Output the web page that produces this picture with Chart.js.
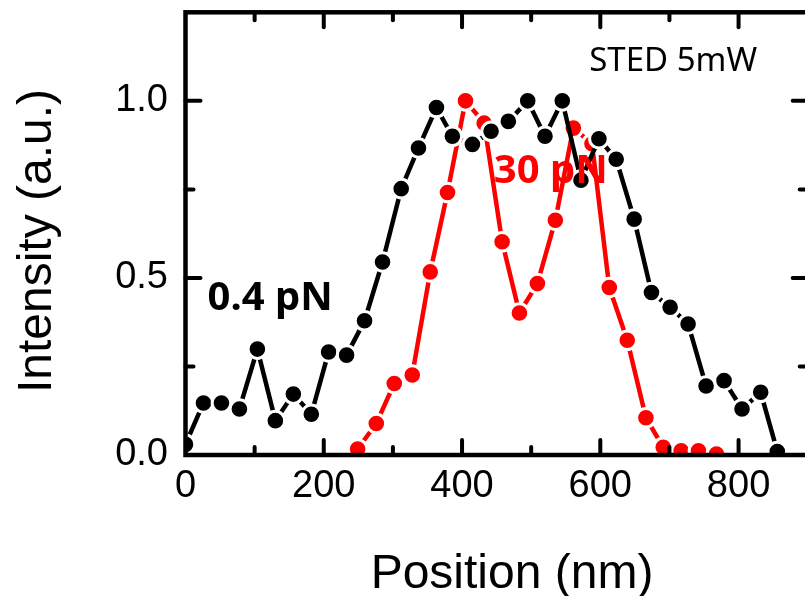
<!DOCTYPE html>
<html>
<head>
<meta charset="utf-8">
<script src="https://cdn.jsdelivr.net/npm/chart.js@4.4.1/dist/chart.umd.min.js"></script>
<style>
  html, body { margin: 0; padding: 0; background: #fff; overflow: hidden; width: 805px; height: 596px; }
  #wrap { width: 820px; height: 596px; }
  canvas { display: block; }
</style>
</head>
<body>
<div id="wrap"><canvas id="profile" width="820" height="596"></canvas></div>
<script>
// Line profile across the structure at 0.4 pN (black)
const lowForcePosition = [0, 26, 52, 78, 104, 130, 156, 182, 207, 233, 259, 285, 312, 337, 363, 386, 415,
  442, 467, 495, 520, 545, 572, 598, 623, 649, 674, 701, 727, 753, 779, 805, 832, 856];
const lowForceIntensity = [0.03, 0.147, 0.147, 0.13, 0.299, 0.097, 0.172, 0.115, 0.291, 0.282, 0.379, 0.545,
  0.752, 0.867, 0.981, 0.90, 0.877, 0.914, 0.942, 1.0, 0.90, 1.0, 0.776, 0.893, 0.835, 0.666, 0.459, 0.417,
  0.37, 0.195, 0.21, 0.13, 0.177, 0.01];

// Line profile at 30 pN (red)
const highForcePosition = [249, 276, 302, 328, 354, 379, 405, 432, 458, 483, 509, 535, 561, 588, 613, 639,
  666, 691, 717, 742, 768];
const highForceIntensity = [0.017, 0.089, 0.202, 0.226, 0.517, 0.741, 1.0, 0.937, 0.602, 0.401, 0.484, 0.663,
  0.923, 0.879, 0.473, 0.324, 0.105, 0.022, 0.012, 0.012, 0.003];

// Axis tick values
const xMajorTicks = [200, 400, 600, 800];
const xMinorTicks = [100, 300, 500, 700];
const yMajorTicks = [0.5, 1.0];
const yMinorTicks = [0.25, 0.75];

const toPoints = (xs, ys) => xs.map((x, i) => ({ x, y: ys[i] }));

const AXIS_FONT = "'Liberation Sans', Arial, sans-serif";
const NOTE_FONT = "'Noto Sans', 'Open Sans', sans-serif";

// Text notes placed in data coordinates
const notes = [
  { text: 'STED 5mW', x: 584, y: 1.083, font: `33px ${NOTE_FONT}`, color: '#000' },
  { text: '0.4 pN', x: 32, y: 0.409, font: `bold 40px ${NOTE_FONT}`, color: '#000' },
  { text: '30 pN', x: 446, y: 0.767, font: `bold 40px ${NOTE_FONT}`, color: '#ff0000' }
];

const framePlugin = {
  id: 'frame',
  afterDatasetsDraw(chart) {
    const { ctx, chartArea: a, scales: { x, y } } = chart;
    ctx.save();
    ctx.strokeStyle = '#000';
    ctx.lineCap = 'round';
    ctx.lineWidth = 4;
    const major = 15, minor = 8;
    const tick = (x1, y1, x2, y2) => { ctx.beginPath(); ctx.moveTo(x1, y1); ctx.lineTo(x2, y2); ctx.stroke(); };
    for (const v of xMajorTicks.concat(xMinorTicks)) {
      const len = xMajorTicks.includes(v) ? major : minor;
      const px = x.getPixelForValue(v);
      tick(px, a.bottom, px, a.bottom - len);
      tick(px, a.top, px, a.top + len);
    }
    for (const v of yMajorTicks.concat(yMinorTicks)) {
      const len = yMajorTicks.includes(v) ? major : minor;
      const py = y.getPixelForValue(v);
      tick(a.left, py, a.left + len, py);
      tick(a.right, py, a.right - len, py);
    }
    ctx.lineWidth = 4.5;
    ctx.lineCap = 'square';
    ctx.strokeRect(a.left, a.top, a.right - a.left, a.bottom - a.top);
    ctx.restore();
  },
  afterDraw(chart) {
    const { ctx, scales: { x, y } } = chart;
    ctx.save();
    ctx.textBaseline = 'alphabetic';
    for (const n of notes) {
      ctx.font = n.font;
      ctx.fillStyle = n.color;
      ctx.textAlign = 'left';
      ctx.fillText(n.text, x.getPixelForValue(n.x), y.getPixelForValue(n.y));
    }
    // Axis titles
    ctx.fillStyle = '#000';
    ctx.font = `48px ${AXIS_FONT}`;
    ctx.textAlign = 'center';
    ctx.fillText('Position (nm)', 512, 588);
    ctx.translate(51, 241);
    ctx.rotate(-Math.PI / 2);
    ctx.fillText('Intensity (a.u.)', 0, 0);
    ctx.restore();
  }
};

new Chart(document.getElementById('profile'), {
  type: 'line',
  data: {
    datasets: [
      {
        label: '0.4 pN',
        data: toPoints(lowForcePosition, lowForceIntensity),
        borderColor: '#000',
        borderWidth: 4.5,
        pointBackgroundColor: '#000',
        pointBorderColor: '#fff',
        pointBorderWidth: 3,
        pointRadius: 9.3,
        tension: 0
      },
      {
        label: '30 pN',
        data: toPoints(highForcePosition, highForceIntensity),
        borderColor: '#ff0000',
        borderWidth: 4.5,
        pointBackgroundColor: '#ff0000',
        pointBorderColor: '#fff',
        pointBorderWidth: 3,
        pointRadius: 9.3,
        tension: 0
      }
    ]
  },
  options: {
    responsive: false,
    animation: false,
    devicePixelRatio: 1,
    layout: { padding: { top: 12, right: 11, left: 0, bottom: 0 } },
    plugins: { legend: { display: false }, tooltip: { enabled: false } },
    scales: {
      x: {
        type: 'linear',
        min: 0, max: 900,
        grid: { display: false, drawTicks: false },
        border: { display: false },
        ticks: {
          stepSize: 200, includeBounds: false, autoSkip: false, maxRotation: 0,
          color: '#000', padding: 9,
          font: { family: AXIS_FONT, size: 38, lineHeight: 1.2 }
        },
        afterFit(s) { s.height = 141; s.paddingLeft = 0; s.paddingRight = 0; }
      },
      y: {
        type: 'linear',
        min: 0, max: 1.25,
        grid: { display: false, drawTicks: false },
        border: { display: false },
        ticks: {
          stepSize: 0.5, includeBounds: false, color: '#000', padding: 17.5,
          font: { family: AXIS_FONT, size: 38 },
          callback: v => v.toFixed(1)
        },
        afterFit(s) { s.width = 185.5; s.paddingTop = 0; s.paddingBottom = 0; }
      }
    }
  },
  plugins: [framePlugin]
});
</script>
</body>
</html>
